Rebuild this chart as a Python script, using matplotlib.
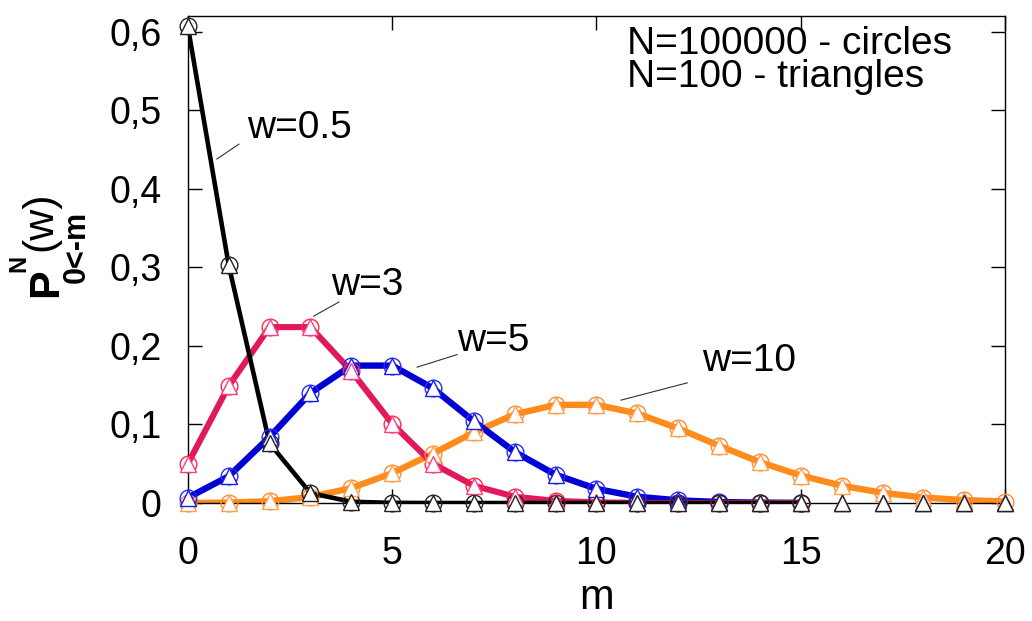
import matplotlib
matplotlib.use("Agg")
import matplotlib.pyplot as plt
from matplotlib.ticker import FixedLocator, FuncFormatter

plt.rcParams["font.family"] = ["Liberation Sans", "DejaVu Sans"]

# values, m = 0, 1, 2, ...
m = list(range(21))
p_w05 = [0.607, 0.303, 0.076, 0.0126, 0.0016, 0.0002, 0, 0, 0, 0, 0,
         0, 0, 0, 0, 0, 0, 0, 0, 0, 0]
p_w3 = [0.050, 0.149, 0.224, 0.224, 0.168, 0.101, 0.050, 0.022, 0.008, 0.0027, 0.0008,
        0.0002, 0, 0, 0, 0, 0, 0, 0, 0, 0]
p_w5 = [0.0067, 0.034, 0.084, 0.140, 0.175, 0.175, 0.146, 0.104, 0.065, 0.036, 0.018,
        0.008, 0.0034, 0.0013, 0.0005, 0.0002, 0, 0, 0, 0, 0]
p_w10 = [0.0000, 0.0005, 0.0023, 0.0076, 0.019, 0.038, 0.063, 0.090, 0.113, 0.125, 0.125,
         0.114, 0.095, 0.073, 0.052, 0.035, 0.022, 0.013, 0.007, 0.0037, 0.0019]

series = [
    # values, line colour, circle colour, triangle colour, last m of line/circles, lw
    (p_w10, "#ff8c1a", "#ff8c33", "#ffa04d", 20, 4.6),
    (p_w5, "#0000d4", "#2a2aff", "#1a1ae6", 15, 4.6),
    (p_w3, "#e0185c", "#ff2a3a", "#ff3c8c", 15, 4.4),
    (p_w05, "#000000", "#222222", "#222222", 15, 3.3),
]

W, H = 1032, 621
fig = plt.figure(figsize=(W / 100, H / 100), dpi=100)
ax = fig.add_axes([0.182, 0.190, 0.792, 0.784])

for vals, lc, cc, tc, last, lw in series:
    ax.plot(m[:last + 1], vals[:last + 1], color=lc, lw=lw, solid_joinstyle="round",
            solid_capstyle="round", zorder=2)
for vals, lc, cc, tc, last, lw in series:
    ax.plot(m[:last + 1], vals[:last + 1], ls="none", marker="o", ms=12, mfc="none",
            mec=cc, mew=1.0, zorder=3, clip_on=False)
    ax.plot(m, vals, ls="none", marker="^", ms=11, mfc="white", mec=tc, mew=1.0,
            zorder=4, clip_on=False)

ax.set_xlim(0, 20)
ax.set_ylim(0, 0.62)
ax.xaxis.set_major_locator(FixedLocator([0, 5, 10, 15, 20]))
ax.yaxis.set_major_locator(FixedLocator([0, 0.1, 0.2, 0.3, 0.4, 0.5, 0.6]))
ax.yaxis.set_major_formatter(FuncFormatter(lambda v, p: "0" if v == 0 else ("%.1f" % v).replace(".", ",")))
ax.tick_params(direction="in", length=10, width=1, top=True, right=True, labelsize=27)
ax.tick_params(axis="y", pad=19)
ax.tick_params(axis="x", pad=24)
for s in ax.spines.values():
    s.set_linewidth(1.0)

ax.set_xlabel("m", fontsize=30, labelpad=4)

# y label built from pieces: P, superscript N, subscript 0<-m, (w)
ylab = [
    ("P", 57, 297, 31, "bold"),
    ("N", 25, 272, 17, "bold"),
    ("0<-m", 85, 283, 22, "bold"),
    ("(w)", 51, 251, 31, "normal"),
]
for s, px, py, fs, fw in ylab:
    fig.text(px / W, 1 - py / H, s, fontsize=fs, fontweight=fw, rotation=90,
             rotation_mode="anchor", ha="left", va="baseline")

# curve labels with leader lines
labels = [
    ("w=0.5", (2.74, 0.478), (1.25, 0.457), (0.71, 0.438)),
    ("w=3", (4.38, 0.278), (3.70, 0.256), (3.08, 0.238)),
    ("w=5", (7.47, 0.206), (6.59, 0.189), (5.61, 0.173)),
    ("w=10", (13.73, 0.181), (12.22, 0.153), (10.60, 0.131)),
]
for txt, tpos, a, b in labels:
    ax.text(tpos[0], tpos[1], txt, fontsize=28, ha="center", va="center", zorder=6)
    ax.plot([a[0], b[0]], [a[1], b[1]], color="#333333", lw=0.8, zorder=6)

ax.text(10.75, 0.585, "N=100000 - circles", fontsize=28, ha="left", va="center")
ax.text(10.75, 0.543, "N=100 - triangles", fontsize=28, ha="left", va="center")

fig.savefig("out.png", dpi=100)
